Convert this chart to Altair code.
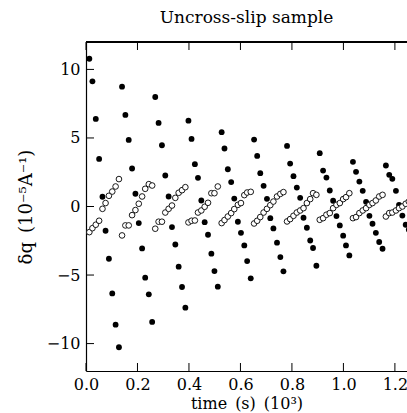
import altair as alt
import pandas as pd

# ---- data ----
times = [
    0.013, 0.025, 0.038, 0.051, 0.064, 0.076, 0.089, 0.102, 0.115, 0.128,
    0.140, 0.153, 0.166, 0.179, 0.192, 0.205, 0.218, 0.230, 0.244, 0.257,
    0.269, 0.282, 0.295, 0.308, 0.321, 0.334, 0.347, 0.360, 0.373, 0.386,
    0.398, 0.410, 0.423, 0.435, 0.448, 0.461, 0.474, 0.487, 0.499, 0.512,
    0.527, 0.538, 0.551, 0.564, 0.576, 0.590, 0.602, 0.615, 0.626, 0.640,
    0.653, 0.665, 0.677, 0.690, 0.703, 0.716, 0.728, 0.742, 0.755, 0.767,
    0.781, 0.793, 0.806, 0.819, 0.832, 0.845, 0.858, 0.871, 0.882, 0.895,
    0.908, 0.921, 0.934, 0.947, 0.960, 0.973, 0.986, 0.999, 1.010, 1.023,
    1.037, 1.049, 1.062, 1.075, 1.088, 1.101, 1.113, 1.126, 1.139, 1.152,
    1.165, 1.178, 1.190, 1.204, 1.216, 1.229, 1.242, 1.254,
]
filled_vals = [
    10.78, 9.13, 6.39, 3.47, 0.71, -1.77, -3.81, -6.34, -8.62, -10.27,
    8.74, 6.68, 4.86, 2.77, 0.93, -1.21, -3.06, -5.19, -6.41, -8.42,
    7.99, 6.10, 4.47, 2.26, 0.73, -1.50, -2.77, -4.39, -5.87, -7.38,
    6.26, 4.93, 3.09, 2.09, 0.44, -1.14, -2.06, -3.44, -4.71, -5.85,
    5.42, 4.23, 2.72, 1.78, 0.58, -1.11, -1.92, -2.84, -3.98, -5.24,
    4.88, 3.69, 2.43, 1.51, 0.56, -0.85, -1.60, -2.64, -3.69, -4.73,
    4.42, 3.13, 2.21, 1.38, 0.63, -0.82, -1.55, -2.48, -3.03, -4.32,
    3.89, 2.62, 2.11, 1.17, 0.42, -0.70, -1.38, -2.13, -2.84, -3.57,
    3.26, 2.53, 1.82, 1.14, 0.34, -0.68, -1.26, -1.92, -2.59, -3.08,
    2.99, 2.31, 2.02, 1.14, 0.12, -0.66, -1.33, -1.70,
]
open_vals = [
    -1.87, -1.58, -1.33, -1.04, -0.17, 0.25, 0.78, 1.09, 1.46, 2.00,
    -2.11, -1.38, -1.38, -0.63, -0.26, 0.20, 0.73, 1.29, 1.63, 1.53,
    -1.62, -1.11, -1.11, -0.44, -0.17, 0.07, 0.63, 1.00, 1.19, 1.41,
    -1.16, -1.04, -1.02, -0.44, -0.29, -0.02, 0.27, 0.97, 0.97, 1.46,
    -1.21, -0.99, -0.73, -0.48, -0.19, 0.12, 0.25, 0.83, 1.02, 1.07,
    -1.24, -1.04, -0.77, -0.44, -0.17, 0.10, 0.36, 0.73, 0.92, 1.05,
    -1.09, -0.92, -0.68, -0.44, -0.29, -0.12, 0.25, 0.54, 0.97, 0.85,
    -0.97, -0.85, -0.60, -0.48, -0.12, 0.12, 0.25, 0.54, 0.68, 0.97,
    -0.85, -0.77, -0.48, -0.29, -0.12, 0.12, 0.25, 0.44, 0.73, 0.85,
    -0.73, -0.48, -0.44, -0.29, -0.12, 0.00, 0.20, 0.36,
]
x_ticks = [0.0, 0.2, 0.4, 0.6, 0.8, 1.0, 1.2]
y_ticks = [-10, -5, 0, 5, 10]

SP = "\u2002"
title_text = "Uncross-slip sample"
x_title = f"time{SP}(s){SP}(10³)"
y_title = f"δq{SP}(10⁻⁵A⁻¹)"

# ---- layout ----
W, H = 321, 329
FONT = "DejaVu Serif"
TICK = 8

df = pd.DataFrame({"t": times, "filled": filled_vals, "open": open_vals})
xt = pd.DataFrame({"v": x_ticks})
yt = pd.DataFrame({"v": y_ticks})

xs = alt.Scale(domain=[0, 1.247], nice=False, zero=False)
ys = alt.Scale(domain=[-12, 12], nice=False, zero=False)

x_axis = alt.Axis(
    title=x_title, values=x_ticks, format=".1f", ticks=False, grid=False,
    domain=True, domainColor="black", domainWidth=1.2,
    labelFont=FONT, labelFontSize=16, labelColor="black", labelPadding=5,
    titleFont=FONT, titleFontSize=16, titleFontWeight="normal", titleColor="black",
    titlePadding=3, labelFlush=False,
)
y_axis = alt.Axis(
    title=y_title, values=y_ticks, format="d", ticks=False, grid=False,
    domain=True, domainColor="black", domainWidth=1.2,
    labelFont=FONT, labelFontSize=16, labelColor="black", labelPadding=6,
    titleFont=FONT, titleFontSize=18, titleFontWeight="normal", titleColor="black",
    titlePadding=11,
)

base = alt.Chart(df)
filled_layer = base.mark_point(
    shape="circle", filled=True, color="black", size=34, opacity=1, clip=True
).encode(
    x=alt.X("t:Q", scale=xs, axis=x_axis),
    y=alt.Y("filled:Q", scale=ys, axis=y_axis),
)
open_layer = base.mark_point(
    shape="circle", filled=False, stroke="black", fill="white", fillOpacity=1,
    size=32, strokeWidth=0.9, opacity=1, clip=True
).encode(
    x=alt.X("t:Q", scale=xs, axis=x_axis),
    y=alt.Y("open:Q", scale=ys, axis=y_axis),
)

top_ticks = alt.Chart(xt).mark_rule(color="black", strokeWidth=1).encode(
    x=alt.X("v:Q", scale=xs, axis=x_axis), y=alt.value(0), y2=alt.value(TICK)
)
bottom_ticks = alt.Chart(xt).mark_rule(color="black", strokeWidth=1).encode(
    x=alt.X("v:Q", scale=xs, axis=x_axis), y=alt.value(H - TICK), y2=alt.value(H)
)
left_ticks = alt.Chart(yt).mark_rule(color="black", strokeWidth=1).encode(
    y=alt.Y("v:Q", scale=ys, axis=y_axis), x=alt.value(0), x2=alt.value(TICK)
)
top_frame = alt.Chart(xt).mark_rule(color="black", strokeWidth=1.2).encode(
    x=alt.value(0), x2=alt.value(W + 2), y=alt.value(0)
)

chart = alt.layer(
    filled_layer, open_layer, top_ticks, bottom_ticks, left_ticks, top_frame
).properties(
    width=W, height=H,
    background="white",
    title=alt.TitleParams(
        title_text, font=FONT, fontSize=17, fontWeight="normal", color="black",
        anchor="middle", offset=14,
    ),
    autosize=alt.AutoSizeParams(type="none"),
    padding={"left": 86, "top": 42, "right": 0, "bottom": 42},
).configure_view(stroke=None)

chart.save("out.html", embed_options={"renderer": "svg", "actions": False})
